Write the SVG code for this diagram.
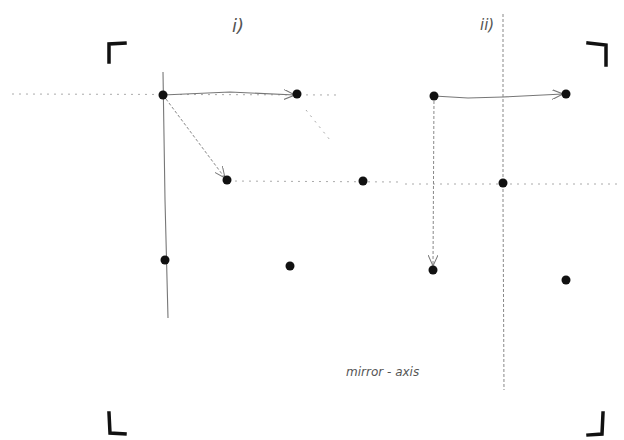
<svg xmlns="http://www.w3.org/2000/svg" width="624" height="440" viewBox="0 0 624 440">
<style>
.dot{fill:#111}
.ln{stroke:#777;stroke-width:1.1;fill:none}
.dl{stroke:#aaa;stroke-width:1;fill:none;stroke-dasharray:2 5}
.ds{stroke:#888;stroke-width:1;fill:none;stroke-dasharray:3 2}
.br{stroke:#111;stroke-width:3.5;fill:none;stroke-linecap:square}
.lbl{font-family:"DejaVu Sans",sans-serif;font-style:italic;fill:#555}
</style>
<defs>
<marker id="ah" viewBox="0 0 12 10" refX="11" refY="5" markerWidth="12" markerHeight="10" markerUnits="userSpaceOnUse" orient="auto">
<path d="M0,0 L11,5 L0,10" fill="none" stroke="#777" stroke-width="1"/>
</marker>
</defs>
<rect width="624" height="440" fill="#fff"/>
<g id="brackets">
<path class="br" d="M109,62 L109,44 L125,43"/>
<path class="br" d="M588,43 L606,45 L606,65"/>
<path class="br" d="M109,413 L110,433 L125,434"/>
<path class="br" d="M603,413 L602,434 L588,435"/>
</g>
<g id="connectors">
<path class="dl" d="M12,94 L340,95"/>
<path class="dl" d="M228,181 L400,182"/>
<path class="dl" d="M405,184 L620,184"/>
<path class="dl" d="M306,110 L330,140"/>
<path class="ln" d="M163,72 L165,200 L168,318"/>
<path class="ln" d="M163,95 L230,92 L295,95" marker-end="url(#ah)"/>
<path class="ds" d="M163,95 L225,178" marker-end="url(#ah)"/>
<path class="ds" d="M503,14 L503,200 L504,390"/>
<path class="ln" d="M434,96 L468,98 L503,97 L563,94" marker-end="url(#ah)"/>
<path class="ds" d="M434,96 L433,266" marker-end="url(#ah)"/>
</g>
<g id="nA"><circle class="dot" cx="163" cy="95" r="4.5"/></g>
<g id="nB"><circle class="dot" cx="297" cy="94" r="4.5"/></g>
<g id="nC"><circle class="dot" cx="227" cy="180" r="4.5"/></g>
<g id="nD"><circle class="dot" cx="363" cy="181" r="4.5"/></g>
<g id="nE"><circle class="dot" cx="165" cy="260" r="4.5"/></g>
<g id="nF"><circle class="dot" cx="290" cy="266" r="4.5"/></g>
<g id="nG"><circle class="dot" cx="434" cy="96" r="4.5"/></g>
<g id="nH"><circle class="dot" cx="566" cy="94" r="4.5"/></g>
<g id="nI"><circle class="dot" cx="503" cy="183" r="4.5"/></g>
<g id="nJ"><circle class="dot" cx="433" cy="270" r="4.5"/></g>
<g id="nK"><circle class="dot" cx="566" cy="280" r="4.5"/></g>
<g id="labels">
<text class="lbl" x="232" y="32" font-size="18">i)</text>
<text class="lbl" x="480" y="30" font-size="15">ii)</text>
<text class="lbl" x="346" y="376" font-size="12">mirror - axis</text>
</g>
</svg>
